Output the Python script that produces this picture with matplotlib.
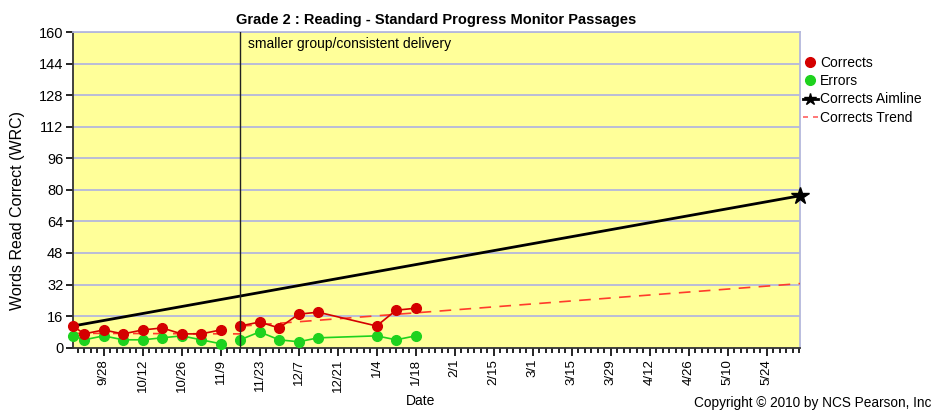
import numpy as np
import pandas as pd
import matplotlib
matplotlib.use('Agg')
import matplotlib.pyplot as plt
import matplotlib.dates as mdates
from matplotlib.lines import Line2D

plt.rcParams['font.family'] = ['Liberation Sans', 'DejaVu Sans']

##############################################################################
# Data
dates_1 = ['2009-09-17', '2009-09-21', '2009-09-28', '2009-10-05', '2009-10-12',
           '2009-10-19', '2009-10-26', '2009-11-02', '2009-11-09']
corrects_1 = [11, 7, 9, 7, 9, 10, 7, 7, 9]
errors_1 = [6, 4, 6, 4, 4, 5, 6, 4, 2]

dates_2 = ['2009-11-16', '2009-11-23', '2009-11-30', '2009-12-07', '2009-12-14',
           '2010-01-04', '2010-01-11', '2010-01-18']
corrects_2 = [11, 13, 10, 17, 18, 11, 19, 20]
errors_2 = [4, 8, 4, 3, 5, 6, 4, 6]

aim_dates = ['2009-09-17', '2010-06-05']
aim_values = [11, 77]

trend1_dates = ['2009-09-17', '2009-11-16']
trend1_values = [7.3, 7.0]
trend2_dates = ['2009-11-16', '2010-06-05']
trend2_values = [10.9, 32.5]

phase_change = '2009-11-16'
phase_label = 'smaller group/consistent delivery'

x_start, x_end = '2009-09-17', '2010-06-05'
major_ticks = pd.date_range('2009-09-28', '2010-05-24', freq='14D')
y_ticks = np.arange(0, 161, 16)

red = '#d40000'
green = '#1ed21e'

##############################################################################
fig = plt.figure(figsize=(9.33, 4.13), dpi=100)
ax = fig.add_axes([73 / 933, 1 - 347.7 / 413, 727 / 933, 315.7 / 413])
ax.set_facecolor('#ffff99')

d = lambda s: pd.to_datetime(s)

for ax_y in y_ticks[1:]:
    ax.axhline(ax_y, color='#b4b8dc', lw=1.3, zorder=1)

# aimline
ax.plot(d(aim_dates), aim_values, color='black', lw=2, zorder=3)
ax.plot(d(aim_dates[-1:]), aim_values[-1:], marker='*', color='black',
        ms=13, ls='none', zorder=5, clip_on=False)

# trends
for td, tv in [(trend1_dates, trend1_values), (trend2_dates, trend2_values)]:
    ax.plot(d(td), tv, color='#ff3b2b', lw=1.2, dashes=(7, 5), zorder=3)

# corrects / errors (line breaks at phase change)
for dd, cc, ee in [(dates_1, corrects_1, errors_1), (dates_2, corrects_2, errors_2)]:
    ax.plot(d(dd), ee, color=green, lw=1.2, marker='o', ms=7,
            mec=green, zorder=4, clip_on=False)
    ax.plot(d(dd), cc, color=red, lw=1.2, marker='o', ms=7,
            mec=red, zorder=4, clip_on=False)

# phase change line
ax.axvline(d(phase_change), color='#222222', lw=1, zorder=4)
ax.text(d(phase_change) + pd.Timedelta(days=3), 157.5, phase_label,
        fontsize=10, va='top', ha='left')

ax.set_xlim(d(x_start), d(x_end))
ax.set_ylim(0, 160)
ax.set_yticks(y_ticks)
ax.set_xticks(major_ticks)
ax.set_xticklabels([f'{t.month}/{t.day}' for t in major_ticks],
                   rotation=90, fontsize=9.5)
start_num = mdates.date2num(d('2009-09-28'))
minor = start_num + np.arange(-5, 120) * 14 / 6
lo, hi = mdates.date2num(d(x_start)), mdates.date2num(d(x_end))
ax.set_xticks(minor[(minor >= lo) & (minor <= hi)], minor=True)
ax.tick_params(axis='x', which='major', length=6, width=1.2, pad=2)
ax.tick_params(axis='x', which='minor', length=3.5, width=1.2)
ax.tick_params(axis='y', length=5, width=1.2, labelsize=10.5, pad=2)

for s in ['left', 'bottom']:
    ax.spines[s].set_color('#333333')
    ax.spines[s].set_linewidth(1.3)
for s in ['top', 'right']:
    ax.spines[s].set_color('#b4b8dc')
    ax.spines[s].set_linewidth(1.3)

ax.set_title('Grade 2 : Reading - Standard Progress Monitor Passages',
             fontsize=10.5, fontweight='bold', pad=6)
fig.text(18 / 933, 1 - 210 / 413, 'Words Read Correct (WRC)', fontsize=11.5,
         rotation=90, ha='center', va='center')
fig.text(421 / 933, 1 - 401 / 413, 'Date', fontsize=10, ha='center', va='center')
fig.text(931 / 933, 1 - 403 / 413, 'Copyright \u00a9 2010 by NCS Pearson, Inc',
         fontsize=9.8, ha='right', va='center')

handles = [
    Line2D([], [], color=red, marker='o', ls='none', ms=7),
    Line2D([], [], color=green, marker='o', ls='none', ms=7),
    Line2D([], [], color='black', marker='*', lw=2, ms=9, markevery=[1]),
    Line2D([], [], color='#ff6060', lw=1.2, dashes=(3, 3)),
]
fig.legend(handles, ['Corrects', 'Errors', 'Corrects Aimline', 'Corrects Trend'],
           loc='upper left', bbox_to_anchor=(797 / 933, 1 - 50 / 413),
           frameon=False, fontsize=10, handlelength=1.1, handletextpad=0.15,
           labelspacing=0.32, borderaxespad=0)

fig.savefig('out.png', dpi=100)
